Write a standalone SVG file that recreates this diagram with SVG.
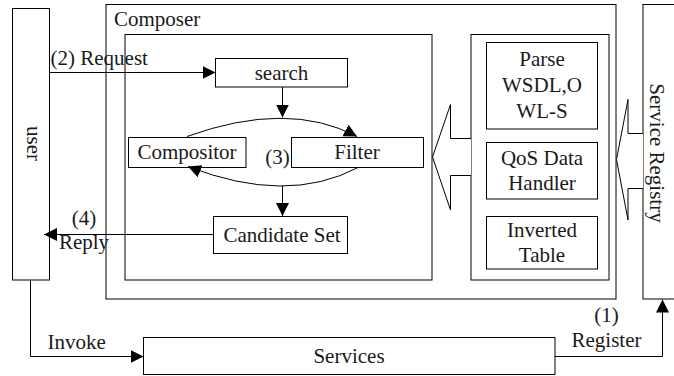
<svg xmlns="http://www.w3.org/2000/svg" width="674" height="376" viewBox="0 0 674 376">
<style>
  text { font-family: "Liberation Serif", "Times New Roman", serif; font-size: 21px; fill: #1a1a1a; }
  .box { fill: #ffffff; stroke: #000000; stroke-width: 1; }
  .c { text-anchor: middle; }
  .line { fill: none; stroke: #000000; stroke-width: 1; }
  .blk { fill: #ffffff; stroke: #000000; stroke-width: 1; }
</style>
<defs>
  <marker id="ah" markerUnits="userSpaceOnUse" markerWidth="14" markerHeight="14" refX="13" refY="6.5" orient="auto">
    <path d="M0,0 L13,6.5 L0,13 z" fill="#000000"/>
  </marker>
</defs>
<rect width="674" height="376" fill="#ffffff"/>

<g id="composer">
  <rect class="box" x="106" y="4.5" width="510" height="294.5"/>
  <text x="114" y="26">Composer</text>
</g>
<g id="composer-core">
  <rect class="box" x="125" y="34.5" width="307" height="245.5"/>
</g>
<g id="composer-data">
  <rect class="box" x="471" y="34.5" width="138" height="245.5"/>
</g>

<g id="user">
  <rect class="box" x="12.5" y="8.5" width="37" height="271.5"/>
  <text class="c" transform="translate(27,143.5) rotate(90)" x="0" y="0">user</text>
</g>

<g id="service-registry">
  <rect class="box" x="643" y="4.5" width="40" height="294.5"/>
  <text class="c" transform="translate(650,153) rotate(90)" x="0" y="0">Service Registry</text>
</g>

<g id="search">
  <rect class="box" x="215.5" y="58.5" width="132" height="28.5"/>
  <text class="c" x="281.5" y="79.5">search</text>
</g>
<g id="compositor">
  <rect class="box" x="128.5" y="137.5" width="117.5" height="30"/>
  <text class="c" x="187" y="159">Compositor</text>
</g>
<g id="filter">
  <rect class="box" x="291.5" y="137.5" width="132" height="30"/>
  <text class="c" x="357" y="159">Filter</text>
</g>
<g id="candidate-set">
  <rect class="box" x="213.5" y="216.5" width="134" height="37"/>
  <text class="c" x="282" y="241.5">Candidate Set</text>
</g>

<g id="parse">
  <rect class="box" x="486.5" y="42.5" width="111" height="86.5"/>
  <text class="c" x="542" y="66">Parse</text>
  <text class="c" x="542" y="92">WSDL,O</text>
  <text class="c" x="542" y="118">WL-S</text>
</g>
<g id="qos">
  <rect class="box" x="486.5" y="142.5" width="111" height="56.5"/>
  <text class="c" x="542" y="165">QoS Data</text>
  <text class="c" x="542" y="190">Handler</text>
</g>
<g id="inverted">
  <rect class="box" x="486.5" y="216.5" width="111" height="52.5"/>
  <text class="c" x="542" y="237">Inverted</text>
  <text class="c" x="542" y="262">Table</text>
</g>

<g id="services">
  <rect class="box" x="143.5" y="337.5" width="411.5" height="37"/>
  <text class="c" x="349" y="362.5">Services</text>
</g>

<g id="connectors">
  <path class="line" d="M50,72.5 H215.5" marker-end="url(#ah)"/>
  <path class="line" d="M282.5,87 V117.5" marker-end="url(#ah)"/>
  <path class="line" d="M187,136.5 Q288,100 357,136.5" marker-end="url(#ah)"/>
  <path class="line" d="M358,167.5 Q287,205 188,166.5" marker-end="url(#ah)"/>
  <path class="line" d="M282.5,186 V216" marker-end="url(#ah)"/>
  <path class="line" d="M213.5,234.5 H44" marker-end="url(#ah)"/>
  <path class="line" d="M30.5,280 V356.5 H143.5" marker-end="url(#ah)"/>
  <path class="line" d="M555,356.5 H662.5 V299.5" marker-end="url(#ah)"/>
  <polyline class="blk" points="471,138.5 450.5,138.5 450.5,104.5 432.5,157 450.5,210 450.5,175.5 471,175.5"/>
  <polyline class="blk" points="643,133.5 628,133.5 628,99.5 616.5,159.5 628,220 628,188.5 643,188.5"/>
  <text x="50.5" y="64.5">(2) Request</text>
  <text class="c" x="277.5" y="164">(3)</text>
  <text class="c" x="84" y="225">(4)</text>
  <text class="c" x="84" y="249">Reply</text>
  <text x="47.5" y="348.5">Invoke</text>
  <text class="c" x="606.5" y="321.5">(1)</text>
  <text class="c" x="606.5" y="346.5">Register</text>
</g>
</svg>
